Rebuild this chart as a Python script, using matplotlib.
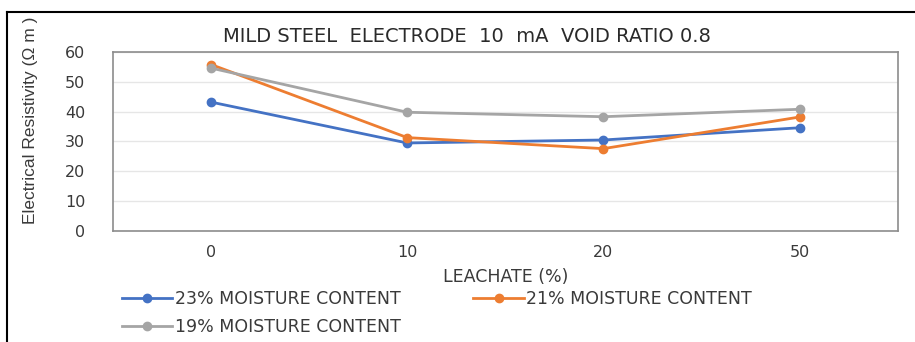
import matplotlib.pyplot as plt
from matplotlib.lines import Line2D

# Data
leachate = ["0", "10", "20", "50"]
mc_23 = [43.2, 29.5, 30.5, 34.6]
mc_21 = [55.8, 31.3, 27.6, 38.2]
mc_19 = [54.6, 39.8, 38.3, 40.8]
series_names = ["23% MOISTURE CONTENT", "21% MOISTURE CONTENT", "19% MOISTURE CONTENT"]
colors = ["#4472C4", "#ED7D31", "#A5A5A5"]

FONT = "DejaVu Sans"
TXT = "#3a3a3a"
fig = plt.figure(figsize=(9.15, 3.42), dpi=100)
ax = fig.add_axes([0.1235, 0.3246, 0.8575, 0.5234])

x = range(len(leachate))
lines = []
for vals, name, c in zip([mc_23, mc_21, mc_19], series_names, colors):
    ln, = ax.plot(x, vals, color=c, lw=2, marker="o", ms=6, label=name)
    lines.append(ln)

ax.set_xlim(-0.5, len(leachate) - 0.5)
ax.set_ylim(0, 60)
ax.set_yticks(range(0, 61, 10))
ax.set_xticks(list(x))
ax.set_xticklabels(leachate)
ax.tick_params(length=0, labelsize=11.5, colors=TXT)
ax.tick_params(axis="x", pad=10)
ax.tick_params(axis="y", pad=20)
for lab in ax.get_xticklabels() + ax.get_yticklabels():
    lab.set_family(FONT)
ax.grid(axis="y", color="#E6E6E6", lw=1)
ax.set_axisbelow(True)
for s in ax.spines.values():
    s.set_color("#8C8C8C")
    s.set_linewidth(1.2)

ax.set_xlabel("LEACHATE (%)", fontsize=12.5, color=TXT, labelpad=6, family=FONT)
fig.text(0.033, 0.649, "Electrical Resistivity (\u03a9 m )", rotation=90, ha="center", va="center",
         fontsize=12.5, color=TXT, family="Liberation Sans")
fig.text(0.51, 0.892, "MILD STEEL  ELECTRODE  10  mA  VOID RATIO 0.8", ha="center", va="center",
         fontsize=14, color="#2a2a2a", family=FONT)

# legend: row 1 -> 23%, 21%; row 2 -> 19%
order = [0, 2, 1]
fig.legend([lines[i] for i in order], [series_names[i] for i in order],
           loc="upper left", bbox_to_anchor=(0.1235, 0.176), ncol=2, frameon=False,
           handlelength=2.9, handletextpad=0.15, columnspacing=4.2,
           labelspacing=0.55, borderpad=0, prop={"family": FONT, "size": 12.5},
           labelcolor=TXT)

# outer frame
fig.add_artist(Line2D([0.0077, 0.0077], [0, 0.965], color="black", lw=1.5))
fig.add_artist(Line2D([0.0077, 1], [0.965, 0.965], color="black", lw=1.5))

fig.savefig("out.png", dpi=100)
